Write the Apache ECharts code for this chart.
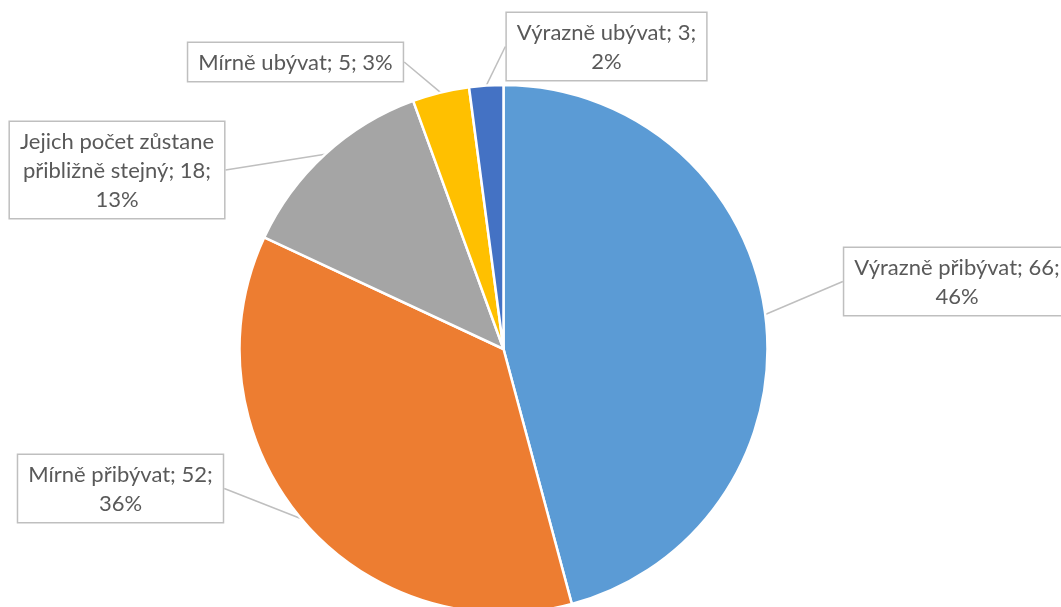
<!DOCTYPE html>
<html><head><meta charset="utf-8">
<script src="https://cdn.jsdelivr.net/npm/echarts@6/dist/echarts.min.js"></script>
<style>html,body{margin:0;padding:0;background:#fff}#c{width:1061px;height:607px}</style>
</head><body><div id="c"></div>
<script>
const categories = ['Výrazně přibývat','Mírně přibývat','Jejich počet zůstane přibližně stejný','Mírně ubývat','Výrazně ubývat'];
const values = [66, 52, 18, 5, 3];
const colors = ['#5B9BD5','#ED7D31','#A5A5A5','#FFC000','#4472C4'];

// label box anchor (center x, top y) per slice
const labelPos = [[957,248],[120.5,455],[117,122],[295.5,43],[606.5,13]];

const chart = echarts.init(document.getElementById('c'));
chart.setOption({
  animation:false,
  series:[{
    type:'pie',
    center:[503.5,349],
    radius:264,
    startAngle:90,
    clockwise:true,
    percentPrecision:0,
    data: categories.map((n,i)=>({name:n,value:values[i],itemStyle:{color:colors[i]}})),
    itemStyle:{borderColor:'#fff',borderWidth:2.5},
    label:{
      show:true,
      position:'outside',
      fontFamily:'Lato',
      fontSize:22,
      lineHeight:29,
      color:'#595959',
      align:'center',
      backgroundColor:'#fff',
      borderColor:'#BFBFBF',
      borderWidth:1.5,
      padding:[5,10,4,10],
      formatter:p=>{
        let name = p.name;
        if (p.dataIndex===2) name = name.replace('zůstane ','zůstane\n');
        const sep = p.dataIndex===3 ? ' ' : '\n';
        return name + '; ' + p.value + ';' + sep + p.percent + '%';
      }
    },
    labelLine:{show:true,length:15,length2:0,lineStyle:{color:'#BFBFBF',width:1.5}},
    labelLayout:p=>{
      const pos = labelPos[p.dataIndex];
      return {x:pos[0],y:pos[1],align:'center',verticalAlign:'top'};
    }
  }]
});
</script></body></html>
